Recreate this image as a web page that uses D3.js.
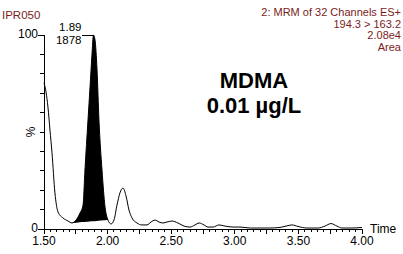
<!DOCTYPE html>
<html><head><meta charset="utf-8">
<script src="https://cdn.jsdelivr.net/npm/d3@7"></script>
<style>
html,body{margin:0;padding:0;background:#fff;}
svg{display:block;font-family:"Liberation Sans",Arial,sans-serif;}
</style></head>
<body>
<svg id="c" width="403" height="254"></svg>
<script>
// Retention time (min)
const times = [1.500,1.516,1.531,1.547,1.563,1.586,1.610,1.649,1.689,1.720,1.752,1.783,1.807,1.822,1.846,1.862,1.877,1.889,1.901,1.917,1.932,1.956,1.980,2.003,2.027,2.050,2.074,2.097,2.121,2.145,2.168,2.192,2.231,2.270,2.310,2.341,2.373,2.404,2.436,2.467,2.506,2.553,2.601,2.648,2.687,2.719,2.758,2.789,2.829,2.876,2.923,2.986,3.041,3.120,3.198,3.277,3.355,3.403,3.450,3.497,3.568,3.654,3.709,3.756,3.803,3.843,3.921,4.000];
// Relative intensity (%)
const intensity = [75.3,70.6,62.9,51.0,39.2,18.6,8.8,5.7,4.1,3.1,4.6,8.2,12.4,30.4,56.2,73.2,89.7,100,97.4,82.0,56.2,30.4,11.3,4.6,2.6,4.6,12.4,18.6,21.1,17.0,9.8,5.7,3.1,2.1,2.1,3.6,4.6,3.6,3.1,3.6,4.1,3.1,1.5,1.0,2.1,3.1,2.1,1.0,1.0,2.1,1.5,1.0,1.0,0.5,0.5,0.5,0.8,1.5,2.1,1.3,0.5,0.5,1.5,2.8,1.5,0.5,0.5,0.8];
// Integrated peak window
const peakStart = 1.720, peakEnd = 2.003;
const peakTime = "1.89", peakArea = "1878";
const xTickLabels = ["1.50","2.00","2.50","3.00","3.50","4.00"];
const yTickLabels = ["0","100"];
const headerLeft = "IPR050";
const headerRight = ["2: MRM of 32 Channels ES+","194.3 > 163.2","2.08e4","Area"];
const titleLines = ["MDMA","0.01 µg/L"];

const svg = d3.select("#c");
const x = d3.scaleLinear().domain([1.5,4.0]).range([44,362]);
const y = d3.scaleLinear().domain([0,100]).range([229,35]);
const data = times.map((t,i)=>({t, v:intensity[i]}));

// filled peak
const inPeak = data.filter(d=>d.t>=peakStart-1e-9 && d.t<=peakEnd+1e-9);
const b0 = inPeak[0], b1 = inPeak[inPeak.length-1];
const base = t => b0.v + (b1.v-b0.v)*(t-b0.t)/(b1.t-b0.t);
const area = d3.area().x(d=>x(d.t)).y0(d=>y(base(d.t))).y1(d=>y(d.v)).curve(d3.curveMonotoneX);
svg.append("path").attr("d",area(inPeak)).attr("fill","#000");

// trace
const line = d3.line().x(d=>x(d.t)).y(d=>y(d.v)).curve(d3.curveMonotoneX);
svg.append("path").attr("d",line(data)).attr("fill","none").attr("stroke","#000").attr("stroke-width",1);

// axes
const g = svg.append("g").attr("stroke","#000").attr("stroke-width",1).attr("shape-rendering","crispEdges");
g.append("line").attr("x1",x(1.5)).attr("x2",x(1.5)).attr("y1",y(0)).attr("y2",y(100));
g.append("line").attr("x1",x(1.5)).attr("x2",x(4.0)).attr("y1",y(0)).attr("y2",y(0));
d3.range(0,101,10).forEach(v=>{
  const len = (v===0||v===100)?6:4;
  g.append("line").attr("x1",x(1.5)-len).attr("x2",x(1.5)).attr("y1",y(v)).attr("y2",y(v));
});
d3.range(0,51).forEach(i=>{
  const t = 1.5+i*0.05;
  const len = (i%5===0)?5:3;
  g.append("line").attr("x1",x(t)).attr("x2",x(t)).attr("y1",y(0)).attr("y2",y(0)+len);
});

// tick labels
const fs = 12;
svg.selectAll(".xl").data(xTickLabels).enter().append("text")
  .attr("x",d=>x(+d)).attr("y",y(0)+16).attr("text-anchor","middle")
  .attr("font-size",fs).text(d=>d);
svg.selectAll(".yl").data(yTickLabels).enter().append("text")
  .attr("x",x(1.5)-6).attr("y",d=>y(+d)+3).attr("text-anchor","end")
  .attr("font-size",fs).text(d=>d);
svg.append("text").attr("x",x(4.0)+8).attr("y",y(0)+4).attr("font-size",fs).text("Time");
svg.append("text").attr("transform",`translate(${x(1.5)-9},${y(50)}) rotate(-90)`)
  .attr("text-anchor","middle").attr("font-size",fs).text("%");

// peak annotation
const px = x(1.889);
svg.append("line").attr("x1",px-11).attr("x2",px).attr("y1",y(100)).attr("y2",y(100))
  .attr("stroke","#000").attr("shape-rendering","crispEdges");
svg.append("text").attr("x",px-12).attr("y",y(100)-4).attr("text-anchor","end").attr("font-size",11.5).text(peakTime);
svg.append("text").attr("x",px-12).attr("y",y(100)+9).attr("text-anchor","end").attr("font-size",11.5).text(peakArea);

// header
const red = "#7a1c1c";
svg.append("text").attr("x",2).attr("y",19).attr("fill",red).attr("font-size",11.5).text(headerLeft);
headerRight.forEach((s,i)=>{
  svg.append("text").attr("x",401).attr("y",16+i*11.7).attr("text-anchor","end")
    .attr("fill",red).attr("font-size",11).text(s);
});

// title
titleLines.forEach((s,i)=>{
  svg.append("text").attr("x",254).attr("y",88+i*25).attr("text-anchor","middle")
    .attr("font-size",22).attr("font-weight","bold").text(s);
});
</script>
</body></html>
